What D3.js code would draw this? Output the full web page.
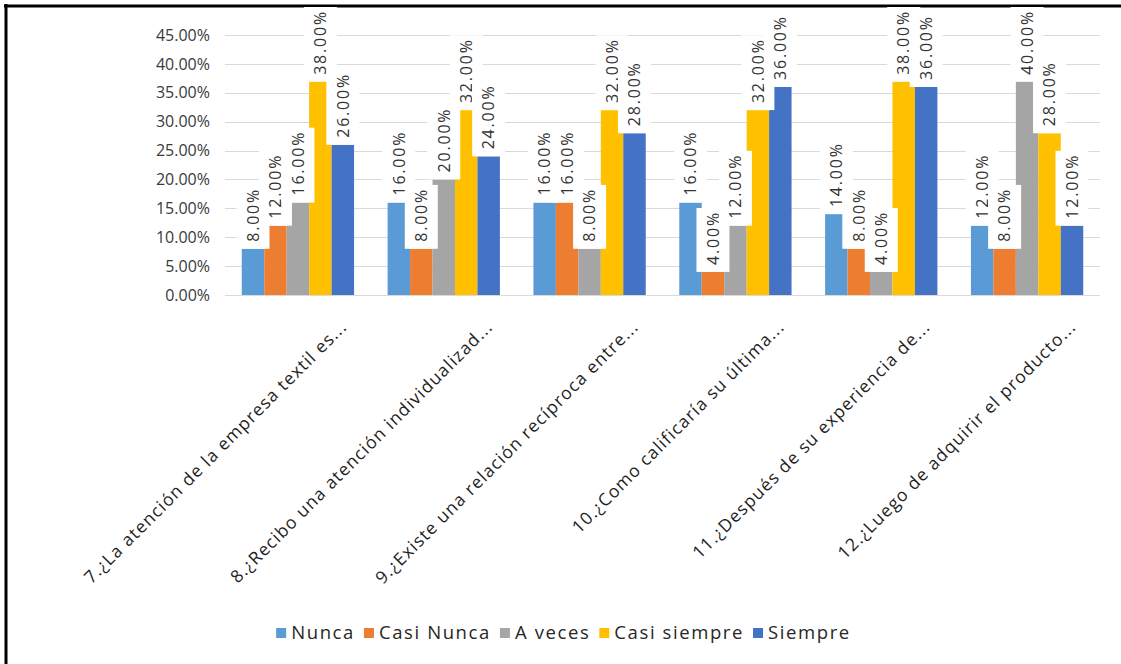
<!DOCTYPE html>
<html>
<head>
<meta charset="utf-8">
<script src="https://cdn.jsdelivr.net/npm/d3@7/dist/d3.min.js"></script>
<style>
  html, body { margin: 0; padding: 0; background: #ffffff; }
  svg { display: block; }
</style>
</head>
<body>
<svg id="chart" width="1121" height="664"></svg>
<script>
// Survey answers per question (share of respondents)
const categories = [
  "7.¿La atención de la empresa textil es...",
  "8.¿Recibo una atención individualizad...",
  "9.¿Existe una relación recíproca entre...",
  "10.¿Como calificaría su última...",
  "11.¿Después de su experiencia de...",
  "12.¿Luego de adquirir el producto..."
];
const seriesNames = ["Nunca", "Casi Nunca", "A veces", "Casi siempre", "Siempre"];
const nunca       = [0.08, 0.16, 0.16, 0.16, 0.14, 0.12];
const casiNunca   = [0.12, 0.08, 0.16, 0.04, 0.08, 0.08];
const aVeces      = [0.16, 0.20, 0.08, 0.12, 0.04, 0.40];
const casiSiempre = [0.38, 0.32, 0.32, 0.32, 0.38, 0.28];
const siempre     = [0.26, 0.24, 0.28, 0.36, 0.36, 0.12];
const yTicks = [0, 0.05, 0.10, 0.15, 0.20, 0.25, 0.30, 0.35, 0.40, 0.45];
const seriesColors = ["#5B9BD5", "#ED7D31", "#A5A5A5", "#FFC000", "#4472C4"];

const seriesValues = [nunca, casiNunca, aVeces, casiSiempre, siempre];
const series = seriesNames.map((name, i) => ({
  name,
  color: seriesColors[i],
  values: categories.map((c, j) => ({ cat: c, value: seriesValues[i][j] }))
}));

const svg = d3.select("#chart");
const W = 1121, H = 664;
const plot = { left: 225, right: 1100, top: 35, bottom: 295 };
const fontFamily = "'Open Sans', 'Liberation Sans', sans-serif";

// frame lines along top and left edges
svg.append("line").attr("x1", 4).attr("x2", W).attr("y1", 6).attr("y2", 6)
  .attr("stroke", "#000").attr("stroke-width", 3);
svg.append("line").attr("x1", 6).attr("x2", 6).attr("y1", 4).attr("y2", H)
  .attr("stroke", "#000").attr("stroke-width", 3);

const x0 = d3.scaleBand()
  .domain(categories)
  .range([plot.left, plot.right])
  .paddingInner(0.23)
  .paddingOuter(0.115);

const x1 = d3.scaleBand()
  .domain(seriesNames)
  .range([0, x0.bandwidth()])
  .padding(0);

const y = d3.scaleLinear()
  .domain([0, 0.45])
  .range([plot.bottom, plot.top]);

// gridlines
svg.append("g")
  .selectAll("line")
  .data(yTicks)
  .join("line")
  .attr("x1", plot.left).attr("x2", plot.right)
  .attr("y1", d => Math.round(y(d)) + 0.5).attr("y2", d => Math.round(y(d)) + 0.5)
  .attr("stroke", "#d9d9d9").attr("stroke-width", 1);

// y axis labels
const yAxis = d3.axisLeft(y).tickValues(yTicks).tickFormat(d3.format(".2%")).tickSize(0).tickPadding(0);
const yAxisG = svg.append("g")
  .attr("transform", `translate(${plot.left - 15},0)`)
  .call(yAxis);
yAxisG.select(".domain").remove();
yAxisG.selectAll("text")
  .attr("font-family", fontFamily)
  .attr("font-size", 16)
  .attr("fill", "#3a3a3a");

// bars
const groups = svg.append("g")
  .selectAll("g")
  .data(series)
  .join("g")
  .attr("fill", d => d.color);

groups.selectAll("rect")
  .data(d => d.values.map(v => ({ ...v, name: d.name })))
  .join("rect")
  .attr("x", d => x0(d.cat) + x1(d.name))
  .attr("width", x1.bandwidth())
  .attr("y", d => y(d.value))
  .attr("height", d => y(0) - y(d.value));

// value labels: vertical text on white boxes, drawn series by series
const labelSize = 16;
const boxWidth = 33;
const padBottom = 7, padTop = 3;
const minTop = 10;
const labelLayer = svg.append("g");
series.forEach(s => {
  s.values.forEach(v => {
    const cx = x0(v.cat) + x1(s.name) + x1.bandwidth() / 2;
    const g = labelLayer.append("g");
    const rect = g.append("rect").attr("fill", "#ffffff");
    const t = g.append("text")
      .attr("font-family", fontFamily)
      .attr("font-size", labelSize)
      .attr("letter-spacing", 1.8)
      .attr("fill", "#333333")
      .text(d3.format(".2%")(v.value));
    const len = t.node().getComputedTextLength();
    // keep the label inside the chart when the bar reaches the top
    const base = Math.max(y(v.value) - padBottom, minTop + len);
    t.attr("transform", `translate(${cx + labelSize * 0.36},${base}) rotate(-90)`);
    rect.attr("x", cx - boxWidth / 2)
      .attr("width", boxWidth)
      .attr("y", base - len - padTop)
      .attr("height", len + padBottom + padTop);
  });
});

// category labels at 45 degrees
svg.append("g")
  .selectAll("text")
  .data(categories)
  .join("text")
  .attr("transform", d => `translate(${x0(d) + x0.bandwidth() / 2 + 50},328) rotate(-45)`)
  .attr("text-anchor", "end")
  .attr("font-family", fontFamily)
  .attr("font-size", 17.5)
  .attr("letter-spacing", 1.1)
  .attr("fill", "#1f1f1f")
  .text(d => d);

// legend
const legend = svg.append("g");
const legendY = 633;
const gap = 9;
let cursor = 0;
series.forEach(s => {
  const g = legend.append("g");
  g.append("rect").attr("x", cursor).attr("y", legendY - 5).attr("width", 10).attr("height", 10).attr("fill", s.color);
  const t = g.append("text")
    .attr("x", cursor + 15)
    .attr("y", legendY + 6)
    .attr("font-family", fontFamily)
    .attr("font-size", 18.5)
    .attr("letter-spacing", 1.6)
    .attr("fill", "#262626")
    .text(s.name);
  cursor += 15 + t.node().getComputedTextLength() + gap;
});
const legendWidth = cursor - gap;
legend.attr("transform", `translate(${(W + 6) / 2 - legendWidth / 2},0)`);
</script>
</body>
</html>
